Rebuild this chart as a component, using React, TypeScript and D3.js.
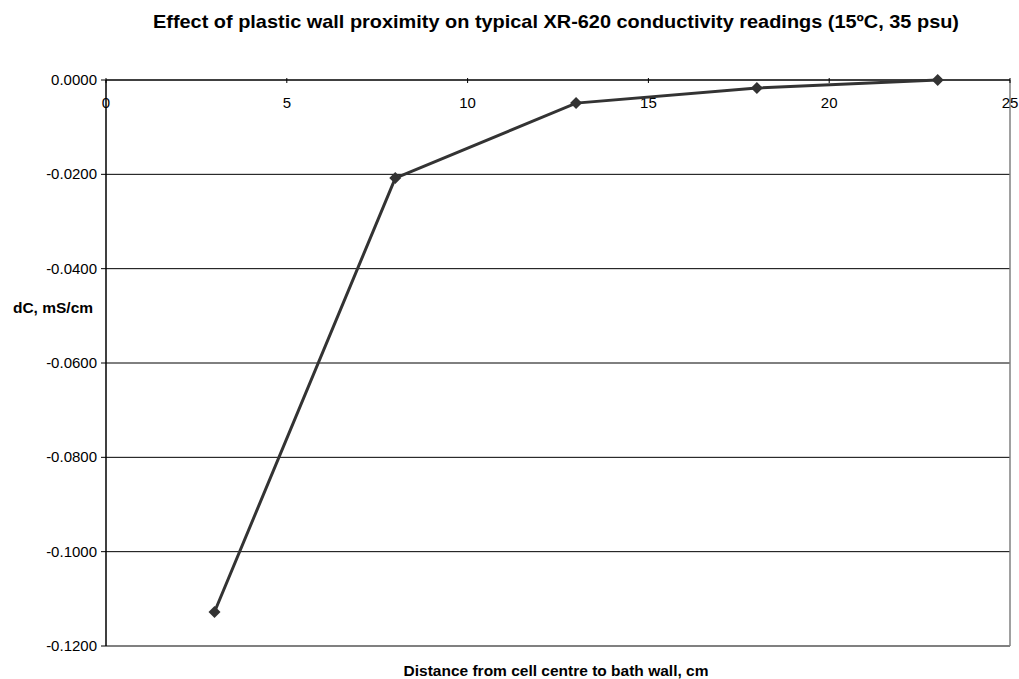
import React from "react";
import * as d3 from "d3";

const distances = [3, 8, 13, 18, 23];
const dC = [-0.1128, -0.0208, -0.0049, -0.0017, 0.0];
const xTicks = [0, 5, 10, 15, 20, 25];
const yTicks = [0, -0.02, -0.04, -0.06, -0.08, -0.1, -0.12];

const title = "Effect of plastic wall proximity on typical XR-620 conductivity readings (15\u00baC, 35 psu)";
const xLabel = "Distance from cell centre to bath wall, cm";
const yLabel = "dC, mS/cm";

export default function App() {
  const W = 1019, H = 679;
  const left = 106, right = 1010, top = 80, bottom = 646;
  const x = d3.scaleLinear().domain([0, 25]).range([left, right]);
  const y = d3.scaleLinear().domain([-0.12, 0]).range([bottom, top]);
  const line = d3.line<number>().x((_, i) => x(distances[i])).y((d) => y(d));
  const font = "Liberation Sans, Arial, sans-serif";
  return (
    <svg width={W} height={H} style={{ position: "absolute", left: 0, top: 0 }} fontFamily={font}>
      <rect width={W} height={H} fill="#fff" />
      <text x={556} y={28} textAnchor="middle" fontSize={19} fontWeight="bold" textLength={806} lengthAdjust="spacingAndGlyphs">{title}</text>
      {yTicks.map((t) => (
        <g key={t}>
          {t !== 0 && t !== -0.12 && (
            <line x1={left} x2={right} y1={y(t)} y2={y(t)} stroke="#000" strokeWidth={1} />
          )}
          <line x1={left - 5} x2={left} y1={y(t)} y2={y(t)} stroke="#000" />
          <text x={97} y={y(t) + 5} textAnchor="end" fontSize={15}>{d3.format(".4f")(t).replace("\u2212", "-")}</text>
        </g>
      ))}
      <line x1={left} x2={right} y1={bottom} y2={bottom} stroke="#808080" strokeWidth={2} />
      <line x1={right} x2={right} y1={top} y2={bottom} stroke="#808080" strokeWidth={1.5} />
      <line x1={left} x2={left} y1={top} y2={bottom} stroke="#000" strokeWidth={1.5} />
      <line x1={left} x2={right} y1={top} y2={top} stroke="#000" strokeWidth={1.5} />
      {xTicks.map((t) => (
        <g key={t}>
          <line x1={x(t)} x2={x(t)} y1={top - 2} y2={top + 3} stroke="#000" />
          <text x={x(t)} y={108} textAnchor="middle" fontSize={15}>{t}</text>
        </g>
      ))}
      <path d={line(dC) || ""} fill="none" stroke="#333" strokeWidth={3} />
      {dC.map((v, i) => {
        const cx = x(distances[i]), cy = y(v);
        return <path key={i} d={`M${cx},${cy - 6}L${cx + 6},${cy}L${cx},${cy + 6}L${cx - 6},${cy}Z`} fill="#333" />;
      })}
      <text x={53} y={313} textAnchor="middle" fontSize={15.5} fontWeight="bold">{yLabel}</text>
      <text x={556} y={676} textAnchor="middle" fontSize={15.5} fontWeight="bold">{xLabel}</text>
    </svg>
  );
}
